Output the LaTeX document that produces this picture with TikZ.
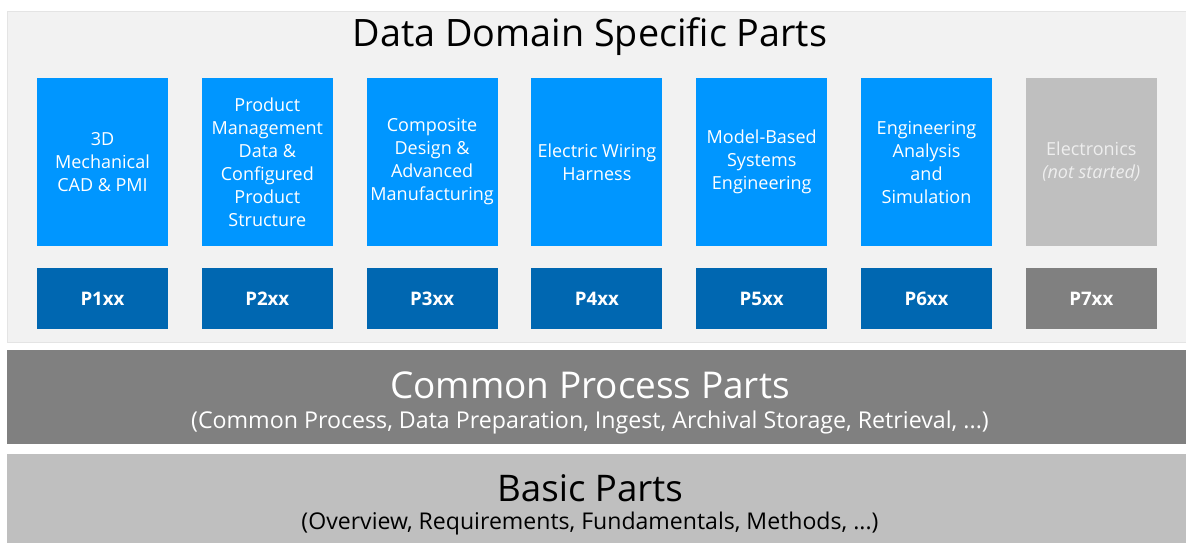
\documentclass[tikz,border=0pt]{standalone}
\usepackage{fontspec}
\setmainfont{Open Sans}
\definecolor{panelgray}{RGB}{242,242,242}
\definecolor{panelline}{RGB}{228,228,228}
\definecolor{partblue}{RGB}{0,150,255}
\definecolor{partdark}{RGB}{0,103,177}
\definecolor{idlegray}{RGB}{191,191,191}
\definecolor{idledark}{RGB}{128,128,128}
\definecolor{idletext}{RGB}{238,238,238}
\tikzset{
  domainbox/.style={fill=partblue, text=white, align=center, inner sep=0pt,
    minimum width=98.25pt, minimum height=126pt,
    font=\fontsize{13.5pt}{17.25pt}\selectfont},
  numberbox/.style={fill=partdark, text=white, inner sep=0pt,
    minimum width=98.25pt, minimum height=45.75pt,
    font=\fontsize{14pt}{17pt}\selectfont\bfseries},
}
\begin{document}
\begin{tikzpicture}[x=0.75pt,y=-0.75pt]
\newcommand\boxw{131}
\newcommand\pitch{164.8}
\newcommand\firstx{37}
\useasboundingbox (0,0) rectangle (1186,543);

% domain specific panel
\fill [panelgray, draw=panelline] (7,11) rectangle (1186,342);
\node (title) at (590,37) [font=\fontsize{28.3pt}{33pt}\selectfont] {Data Domain Specific Parts};

\foreach \i/\txt in {0/{3D\\Mechanical\\CAD \& PMI},
    1/{Product\\Management\\Data \&\\Configured\\Product\\Structure},
    2/{Composite\\Design \&\\Advanced\\Manufacturing},
    3/{Electric Wiring\\Harness},
    4/{Model-Based\\Systems\\Engineering},
    5/{Engineering\\Analysis\\and\\Simulation}} {
    \node (dom\i) at (\firstx+\i*\pitch+\boxw/2, 162) [domainbox] {\txt};
}
\foreach \i in {0,...,5} {
    \pgfmathtruncatemacro\num{\i+1}
    \node (num\i) at (\firstx+\i*\pitch+\boxw/2, 298.5) [numberbox] {P\num xx};
}
\node (dom6) at (\firstx+6*\pitch+\boxw/2, 162) [domainbox, fill=idlegray, text=idletext] {Electronics\\\textit{(not started)}};
\node (num6) at (\firstx+6*\pitch+\boxw/2, 298.5) [numberbox, fill=idledark] {P7xx};

% common process band
\fill [idledark] (7,350) rectangle (1186,444);
\node (common) at (590,385) [text=white, font=\fontsize{27.7pt}{33pt}\selectfont] {Common Process Parts};
\node (commonsub) at (590,422) [text=white, font=\fontsize{17.4pt}{20pt}\selectfont] {(Common Process, Data Preparation, Ingest, Archival Storage, Retrieval, ...)};

% basic band
\fill [idlegray] (7,454) rectangle (1186,543);
\node (basic) at (590,488) [font=\fontsize{27.5pt}{33pt}\selectfont] {Basic Parts};
\node (basicsub) at (590,524) [font=\fontsize{17.3pt}{20pt}\selectfont] {(Overview, Requirements, Fundamentals, Methods, ...)};
\end{tikzpicture}
\end{document}
